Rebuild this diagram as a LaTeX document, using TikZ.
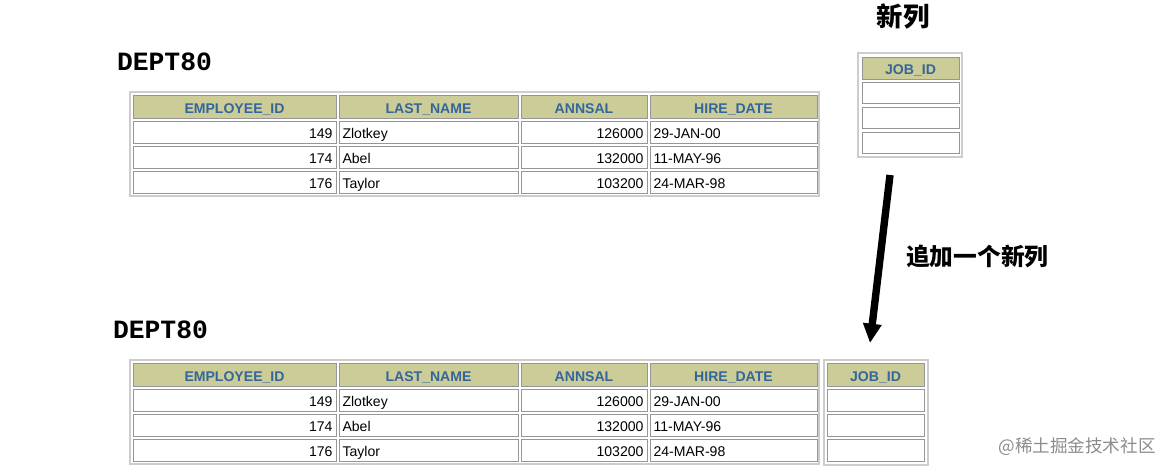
\documentclass[tikz,border=0pt]{standalone}
\usepackage{fontspec}
\setmainfont{Liberation Sans}
\newfontfamily\deptfont{Liberation Mono}
\newfontfamily\cjk{Noto Sans CJK SC}
\usepackage{xcolor}
\definecolor{hdrfill}{RGB}{204,204,153}
\definecolor{hdrtext}{RGB}{51,102,153}
\definecolor{cellline}{RGB}{150,150,150}
\definecolor{framegray}{RGB}{205,205,205}
\usetikzlibrary{arrows.meta}
\tikzset{>=latex,
    hdr/.style={draw=cellline, fill=hdrfill, text=hdrtext, inner sep=0pt,
      font=\bfseries\fontsize{8}{8}\selectfont, minimum height=4.5mm,
      text height=7.5pt, text depth=0.5pt},
    cell/.style={draw=cellline, fill=white, inner xsep=0.7mm, inner ysep=0pt,
      font=\fontsize{8}{8}\selectfont, minimum height=4.4mm,
      text height=7.5pt, text depth=0.5pt},
    tblframe/.style={draw=framegray, line width=0.45mm},
    title/.style={font=\deptfont\bfseries\fontsize{15}{15}\selectfont}}

\begin{document}
\begin{tikzpicture}[x=0.2mm, y=-0.2mm]
    \useasboundingbox (0,0) rectangle (1174,475);
    % the two DEPT80 tables
    \foreach \dy/\t/\dx in {0/a/0,268/b/4} {
      \node[title] (\t title) at (164.5-\dx,62+\dy) {DEPT80};
      \draw[tblframe] (130,92+\dy) rectangle (819,196+\dy);
      \foreach \cx/\w/\head/\n in {234.5/40.6/EMPLOYEE\_ID/1, 428.5/35.8/LAST\_NAME/2,
                                   584/25.2/ANNSAL/3, 733.5/33.4/HIRE\_DATE/4}
        \node[hdr, minimum width=\w mm] (\t h\n) at (\cx,107+\dy) {\head};
      \foreach \id/\name/\sal/\date/\r in {149/Zlotkey/126000/29-JAN-00/1,
                                           174/Abel/132000/11-MAY-96/2,
                                           176/Taylor/103200/24-MAR-98/3} {
        \pgfmathsetmacro\y{107+25*\r+\dy}
        \node[cell, text width=39.2mm, align=right] (\t r\r c1) at (234.5,\y) {\id};
        \node[cell, text width=34.4mm, align=left] (\t r\r c2) at (428.5,\y) {\name};
        \node[cell, text width=23.8mm, align=right] (\t r\r c3) at (584,\y) {\sal};
        \node[cell, text width=32mm, align=left] (\t r\r c4) at (733.5,\y) {\date};
      }
    }
    % new column, alone and appended
    \node[font=\cjk\bfseries\fontsize{15}{15}\selectfont] (newcol) at (903,17) {新列};
    \draw[tblframe] (858,53) rectangle (962,157);
    \node[hdr, minimum width=19.4mm, minimum height=4.4mm] (jobh) at (910.5,68) {JOB\_ID};
    \foreach \r in {1,2,3}
      \node[cell, minimum width=19.4mm, minimum height=4.2mm] (job\r) at (910.5,68+25*\r) {};
    \draw[tblframe] (824,360) rectangle (928,465);
    \node[hdr, minimum width=19.4mm] (bjobh) at (875.5,375) {JOB\_ID};
    \foreach \r in {1,2,3}
      \node[cell, minimum width=19.4mm] (bjob\r) at (875.5,375+25*\r) {};
    % arrow
    \coordinate (arrtop) at (890,175);
    \coordinate (arrbot) at (870,343);
    \draw[line width=4.2pt, -{Triangle[length=11pt, width=10pt]}] (arrtop) -- (arrbot);
    \node[font=\cjk\bfseries\fontsize{13.5}{13.5}\selectfont, anchor=west] (addlbl) at (900,256) {追加一个新列};
    \node[font=\cjk\fontsize{10}{10}\selectfont, text=black!45] (mark) at (1077,447) {@稀土掘金技术社区};
\end{tikzpicture}
\end{document}
